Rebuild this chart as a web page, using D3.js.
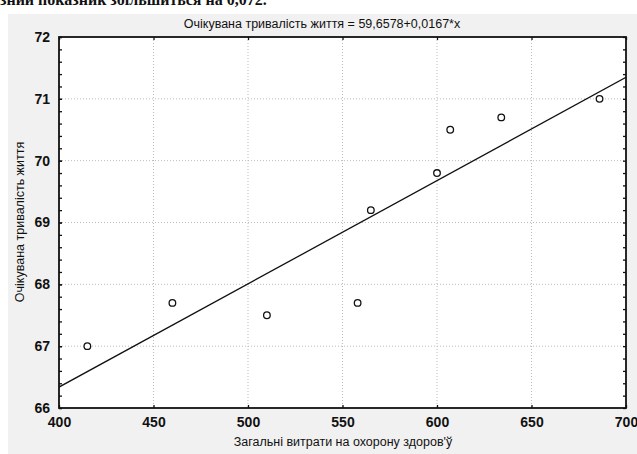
<!DOCTYPE html>
<html>
<head>
<meta charset="utf-8">
<script src="https://cdn.jsdelivr.net/npm/d3@7"></script>
<style>
  body { margin: 0; background: #fff; }
  svg text { font-family: "Liberation Sans Narrow", "Liberation Sans", Arial, sans-serif; fill: #111; }
</style>
</head>
<body>
<div id="chart"></div>
<script>
// data
var spending = [415, 460, 510, 558, 565, 600, 607, 634, 686];
var lifeExp = [67.0, 67.7, 67.5, 67.7, 69.2, 69.8, 70.5, 70.7, 71.0];
var xTicks = [400, 450, 500, 550, 600, 650, 700];
var yTicks = [66, 67, 68, 69, 70, 71, 72];
var intercept = 59.6578;
var slope = 0.0167;

var svgWidth = 637;
var svgHeight = 454;

var margin = { top: 37, right: 11, bottom: 46, left: 59 };
var width = 626 - margin.left;
var height = 408 - margin.top;

var svg = d3.select("#chart")
  .append("svg")
  .attr("width", svgWidth)
  .attr("height", svgHeight);

// clipped line of text above the figure
svg.append("text")
  .attr("x", 0)
  .attr("y", 5)
  .style("font-family", "'Liberation Serif', serif")
  .style("font-size", "16px")
  .style("font-weight", "bold")
  .text("зний показник збільшиться на 0,072.");

// grey figure background
svg.append("rect")
  .attr("x", 8)
  .attr("y", 14)
  .attr("width", svgWidth - 8)
  .attr("height", svgHeight - 14)
  .attr("fill", "#f1f1f1");

var chartGroup = svg.append("g")
  .attr("transform", `translate(${margin.left}, ${margin.top})`);

chartGroup.append("rect")
  .attr("width", width)
  .attr("height", height)
  .attr("fill", "#fff");

var xScale = d3.scaleLinear().domain([400, 700]).range([0, width]);
var yScale = d3.scaleLinear().domain([66, 72]).range([height, 0]);

// grid
chartGroup.append("g")
  .selectAll("line")
  .data(xTicks.slice(1, -1))
  .enter()
  .append("line")
  .attr("x1", d => xScale(d)).attr("x2", d => xScale(d))
  .attr("y1", 0).attr("y2", height)
  .attr("stroke", "#bbb")
  .attr("stroke-dasharray", "1,2");

chartGroup.append("g")
  .selectAll("line")
  .data(yTicks.slice(1, -1))
  .enter()
  .append("line")
  .attr("y1", d => yScale(d)).attr("y2", d => yScale(d))
  .attr("x1", 0).attr("x2", width)
  .attr("stroke", "#bbb")
  .attr("stroke-dasharray", "1,2");

// axes (ticks pointing inward)
var yMinor = d3.range(66, 72.001, 0.2);
var xMinor = d3.range(400, 700.001, 10);

function styleAxis(g) {
  g.select(".domain").remove();
  g.selectAll("line").attr("stroke", "#111").attr("stroke-width", 1.3);
}

chartGroup.append("g")
  .call(d3.axisLeft(yScale).tickValues(yMinor).tickSize(-3).tickFormat(""))
  .call(styleAxis);
chartGroup.append("g")
  .call(d3.axisLeft(yScale).tickValues(yTicks).tickSize(-3).tickPadding(9)
    .tickFormat(d3.format("d")))
  .call(styleAxis)
  .selectAll("text")
  .style("font-size", "14px")
  .style("font-weight", "bold");

chartGroup.append("g")
  .attr("transform", `translate(${width}, 0)`)
  .call(d3.axisRight(yScale).tickValues(yMinor).tickSize(-3).tickFormat(""))
  .call(styleAxis);

chartGroup.append("g")
  .attr("transform", `translate(0, ${height})`)
  .call(d3.axisBottom(xScale).tickValues(xTicks).tickSize(-3).tickPadding(9)
    .tickFormat(d3.format("d")))
  .call(styleAxis)
  .selectAll("text")
  .style("font-size", "14px")
  .style("font-weight", "bold");

chartGroup.append("g")
  .call(d3.axisTop(xScale).tickValues(xTicks).tickSize(-3).tickFormat(""))
  .call(styleAxis);

// frame
chartGroup.append("rect")
  .attr("width", width)
  .attr("height", height)
  .attr("fill", "none")
  .attr("stroke", "#111")
  .attr("stroke-width", 1.8);

// regression line
chartGroup.append("clipPath")
  .attr("id", "plotClip")
  .append("rect")
  .attr("width", width)
  .attr("height", height);

var fitLine = d3.line()
  .x(d => xScale(d))
  .y(d => yScale(intercept + slope * d));

chartGroup.append("path")
  .datum([400, 700])
  .attr("d", fitLine)
  .attr("clip-path", "url(#plotClip)")
  .attr("fill", "none")
  .attr("stroke", "#111")
  .attr("stroke-width", 1.3);

// points
chartGroup.selectAll("circle")
  .data(spending)
  .enter()
  .append("circle")
  .attr("cx", d => xScale(d))
  .attr("cy", (d, i) => yScale(lifeExp[i]))
  .attr("r", 3.3)
  .attr("fill", "#fff")
  .attr("stroke", "#111")
  .attr("stroke-width", 1.3);

// titles
svg.append("text")
  .attr("x", 322)
  .attr("y", 28)
  .attr("text-anchor", "middle")
  .style("font-size", "12.5px")
  .text("Очікувана тривалість життя = 59,6578+0,0167*x");

svg.append("text")
  .attr("transform", "rotate(-90)")
  .attr("x", -222)
  .attr("y", 24)
  .attr("text-anchor", "middle")
  .style("font-size", "12.5px")
  .text("Очікувана тривалість життя");

svg.append("text")
  .attr("x", 343)
  .attr("y", 446)
  .attr("text-anchor", "middle")
  .style("font-size", "12.5px")
  .text("Загальні витрати на охорону здоров'ў");
</script>
</body>
</html>
